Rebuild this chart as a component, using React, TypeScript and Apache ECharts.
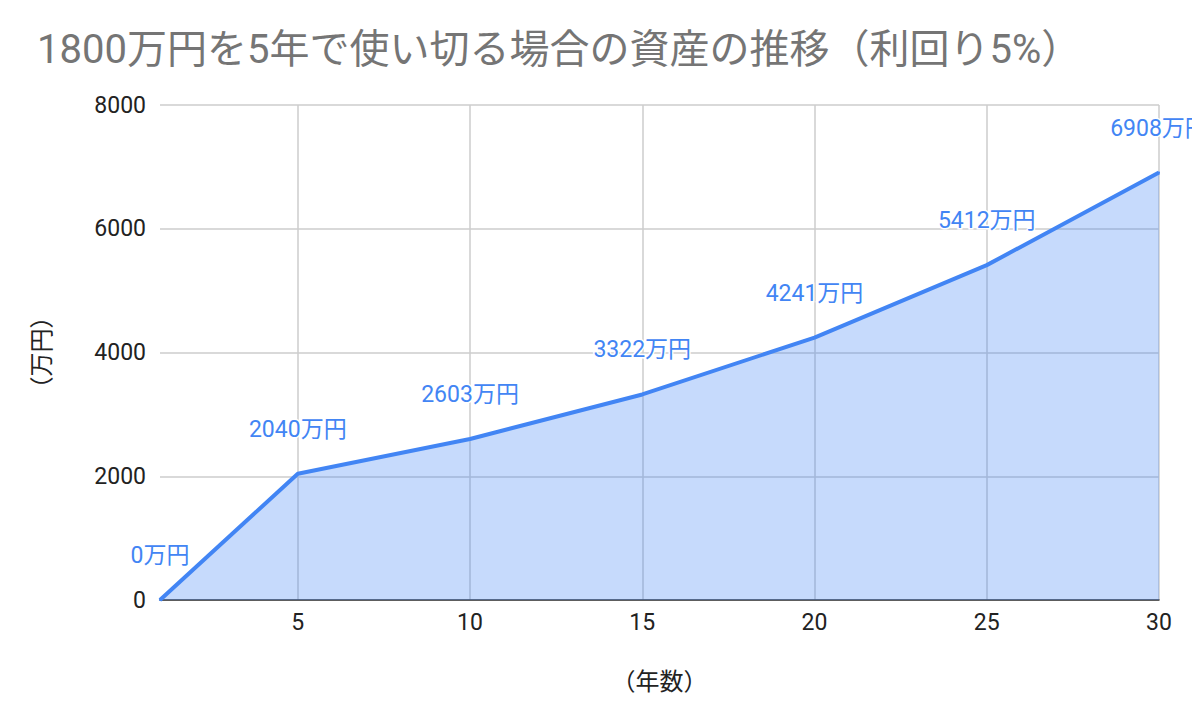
import React, { useEffect, useRef } from "react";
import * as echarts from "echarts";

const TITLE = "1800万円を5年で使い切る場合の資産の推移（利回り5%）";
const years = [1, 5, 10, 15, 20, 25, 30];
const assets = [0, 2040, 2603, 3322, 4241, 5412, 6908];
const xTicks = [5, 10, 15, 20, 25, 30];
const X_NAME = "（年数）";
const Y_NAME = "（万円）";
const UNIT = "万円";

const FONT = "Roboto, 'Noto Sans CJK JP', sans-serif";

export default function App() {
  const ref = useRef<HTMLDivElement>(null);
  useEffect(() => {
    if (!ref.current) return;
    const chart = echarts.init(ref.current, null, { renderer: "svg" });
    chart.setOption({
      animation: false,
      backgroundColor: "#ffffff",
      textStyle: { fontFamily: FONT },
      title: {
        text: TITLE,
        left: 32,
        top: 24,
        textStyle: { fontSize: 40, fontWeight: "normal", color: "#757575", fontFamily: FONT },
      },
      grid: { left: 160, right: 33, top: 105, bottom: 126, containLabel: false },
      xAxis: {
        type: "value",
        min: 1,
        max: 30,
        name: X_NAME,
        nameLocation: "middle",
        nameGap: 70,
        nameTextStyle: { fontSize: 24, color: "#222", fontFamily: FONT },
        axisLine: { show: true, lineStyle: { color: "#333", width: 1.5 } },
        axisTick: { show: false, customValues: xTicks },
        axisLabel: { customValues: xTicks, fontSize: 23, color: "#222", margin: 11, fontFamily: FONT },
        splitLine: { show: true, lineStyle: { color: "#cccccc", width: 1.5 } },
      },
      yAxis: {
        type: "value",
        min: 0,
        max: 8000,
        interval: 2000,
        name: Y_NAME,
        nameLocation: "middle",
        nameGap: 106,
        nameTextStyle: { fontSize: 24, color: "#222", fontFamily: FONT },
        axisLine: { show: false },
        axisTick: { show: false },
        axisLabel: { fontSize: 23, color: "#222", margin: 14, fontFamily: FONT, formatter: (v: number) => String(v) },
        splitLine: { show: true, lineStyle: { color: "#cccccc", width: 1.5 } },
      },
      series: [
        {
          type: "line",
          data: years.map((y, i) => [y, assets[i]]),
          showSymbol: true,
          symbol: "circle",
          symbolSize: 2,
          lineStyle: { color: "#4285f4", width: 4 },
          itemStyle: { color: "#4285f4" },
          areaStyle: { color: "rgba(66,133,244,0.3)", opacity: 1, origin: "start" },
          label: {
            show: true,
            position: "top",
            distance: 32,
            formatter: (p: any) => `${p.value[1]}${UNIT}`,
            fontSize: 23,
            color: "#4285f4",
            fontFamily: FONT,
            textBorderColor: "#ffffff",
            textBorderWidth: 3,
          },
          labelLayout: { hideOverlap: false },
          z: 3,
        },
      ],
    });
    return () => chart.dispose();
  }, []);
  return (
    <div
      ref={ref}
      style={{ position: "fixed", left: 0, top: 0, width: 1192, height: 726 }}
    />
  );
}
